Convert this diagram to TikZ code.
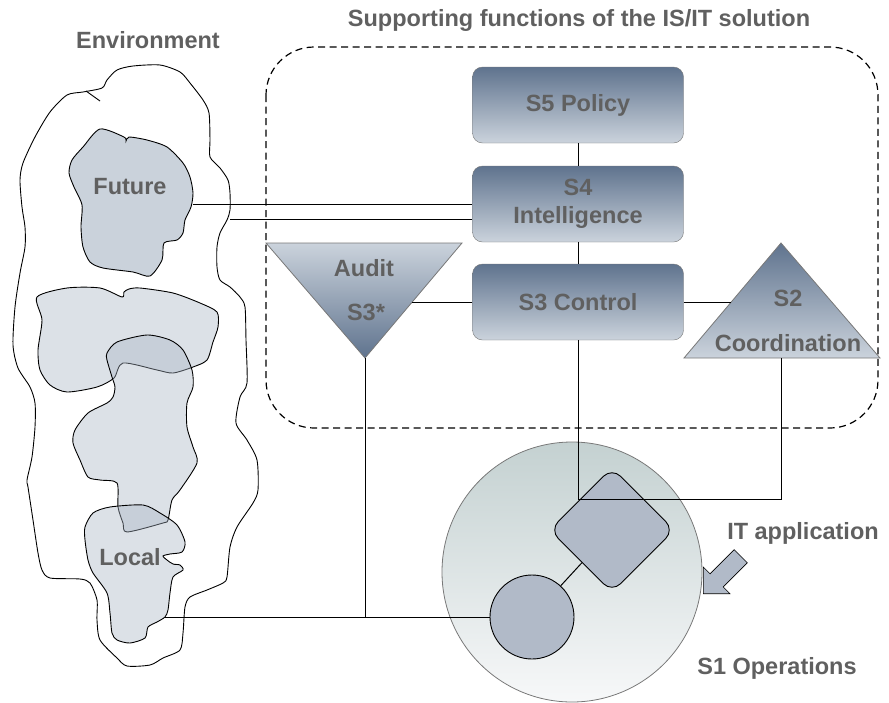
\documentclass[tikz,border=0pt]{standalone}
\usepackage{fontspec}
\setmainfont{Liberation Sans}
\usepackage{tikz}
\usetikzlibrary{shapes.arrows,positioning,calc}

\definecolor{boxtop}{RGB}{95,115,142}
\definecolor{boxbot}{RGB}{203,211,220}
\definecolor{boxline}{RGB}{120,120,120}
\definecolor{textgray}{RGB}{96,96,96}
\definecolor{futfill}{RGB}{202,210,219}
\definecolor{blobfill}{RGB}{168,180,196}
\definecolor{opfill}{RGB}{177,186,200}
\definecolor{circtop}{RGB}{196,209,209}
\definecolor{circbot}{RGB}{247,248,249}

\begin{document}
\begin{tikzpicture}[x=1pt,y=-1pt,
  lbl/.style={font=\bfseries\fontsize{23.5}{28}\selectfont, text=textgray, align=center},
  vsmbox/.style={draw=boxline, rounded corners=10pt, top color=boxtop, bottom color=boxbot,
    minimum width=211pt, minimum height=76pt, inner sep=0pt},
  blob/.style={draw=black, line width=0.9pt, fill=blobfill, fill opacity=0.4, draw opacity=1},
  link/.style={draw=black, line width=1pt}]
\useasboundingbox (0,0) rectangle (889,702);

% Environment
\draw[line width=0.9pt] plot[smooth cycle, tension=0.45] coordinates {
  (83,92) (102,88) (107,80) (117,70) (133,66) (160,65) (180,72) (190,83) (203,100)
  (209,113) (210,140) (210,157) (220,168) (228,180) (230,193) (230,210) (227,220)
  (220,233) (217,247) (217,267) (220,280) (230,287) (240,297) (245,307) (246,340)
  (247,383) (240,397) (236,423) (247,440) (257,460) (258,490) (253,503) (237,527)
  (230,547) (227,577) (223,583) (207,590) (190,597) (185,607) (183,633) (180,650)
  (163,658) (150,665) (127,666) (117,658) (100,640) (97,620) (97,600) (90,583)
  (80,579) (50,578) (42,570) (38,553) (33,520) (28,487) (27,480) (32,457) (35,427)
  (35,403) (30,387) (18,368) (13,345) (15,307) (20,273) (25,247) (25,227) (22,207)
  (20,180) (23,163) (35,137) (50,112) (67,95)};
\draw[line width=0.9pt] (86,91) -- (100,101);

% Future
\filldraw[fill=futfill, draw=black, line width=0.9pt] plot[smooth cycle, tension=0.45] coordinates {
  (100,129) (124,137) (126,141) (129,137) (147,140) (167,147) (183,163) (190,177)
  (193,193) (191,207) (185,220) (183,233) (177,240) (164,243) (162,260) (150,276)
  (133,272) (103,268) (90,262) (83,247) (81,227) (82,205) (74,187) (69,173) (72,160)
  (83,147)};
\fill[blobfill, fill opacity=0.4] plot[smooth cycle, tension=0.45] coordinates {
  (37,297) (67,288) (100,288) (122,297) (124,292) (129,289) (140,288) (173,293)
  (200,303) (217,312) (218,327) (213,342) (207,360) (193,367) (173,373) (157,370)
  (123,363) (114,378) (97,387) (67,392) (50,385) (40,370) (38,350) (42,320)};
\draw[line width=0.9pt] plot[smooth cycle, tension=0.45] coordinates {
  (37,297) (67,288) (100,288) (122,297) (124,292) (129,289) (140,288) (173,293)
  (200,303) (217,312) (218,327) (213,342) (207,360) (193,367) (173,373) (157,370)
  (123,363) (114,378) (97,387) (67,392) (50,385) (40,370) (38,350) (42,320)};
\path[blob] plot[smooth cycle, tension=0.45] coordinates {
  (107,353) (117,342) (147,335) (170,340) (183,350) (192,370) (193,387) (187,403)
  (187,427) (193,447) (197,463) (180,490) (172,500) (168,520) (163,523) (127,532)
  (123,523) (118,507) (117,483) (100,480) (88,477) (80,460) (73,443) (75,430)
  (88,413) (107,403) (113,397) (115,387) (112,377) (107,360)};
\path[blob] plot[smooth cycle, tension=0.45] coordinates {
  (85,527) (93,513) (110,507) (143,505) (160,513) (177,525) (185,542) (182,552)
  (170,554) (163,556) (167,560) (173,564) (180,565) (183,570) (173,577) (170,593)
  (168,610) (165,617) (157,622) (148,627) (145,638) (130,643) (117,640) (112,633)
  (110,613) (107,593) (93,573) (88,560) (85,540)};
\coordinate (futR) at (193,204);
\coordinate (envR) at (230,219);
\coordinate (locR) at (165,617);
\node[lbl] (envlbl) at (148,40) {Environment};
\node[lbl] (futlbl) at (130,187) {Future};
\node[lbl] (loclbl) at (130,557) {Local};

% Supporting functions
\draw[dash pattern=on 7pt off 4.5pt, line width=1.2pt, rounded corners=48pt] (266,47) rectangle (878,428);
\node[lbl] (supplbl) at (579,20) {Supporting functions of the IS/IT solution};
\node[vsmbox, lbl] (s5) at (578,105) {S5 Policy};
\node[vsmbox, lbl] (s4) at (578,204) {S4\\Intelligence};
\node[vsmbox, lbl] (s3) at (578,302) {S3 Control};

\shade[top color=boxbot, bottom color=boxtop, draw=boxline, line width=0.8pt] (266,243) -- (462,243) -- (365,358) -- cycle;
\coordinate (auditA) at (365,358);
\coordinate (auditE) at (412,302);
\node[lbl] (audit) at (364,268) {Audit};
\node[lbl] (s3star) at (366,312) {S3*};

\shade[top color=boxtop, bottom color=boxbot, draw=boxline, line width=0.8pt] (781,243) -- (880,358) -- (684,358) -- cycle;
\coordinate (s2W) at (731,302);
\coordinate (s2B) at (781,358);
\node[lbl] (s2) at (788,298) {S2};
\node[lbl] (coord) at (788,343) {Coordination};

% Operations
\node[circle, draw=boxline, line width=0.8pt, top color=circtop, bottom color=circbot, minimum size=260pt] (s1) at (572,572) {};
\node[circle, draw=black, line width=0.9pt, fill=opfill, minimum size=84pt] (opcirc) at (532,617) {};
\node[rectangle, rounded corners=12pt, rotate=45, draw=black, line width=0.9pt, fill=opfill, minimum size=88pt] (appdiam) at (612,530) {};
\coordinate (opjoin) at (578,499);
\node[single arrow, draw=black, line width=0.6pt, fill=opfill, rotate=225, minimum height=53pt,
  single arrow head extend=9.5pt, single arrow tip angle=90, inner sep=9pt, anchor=tip] (itarrow) at (703,594) {};
\node[lbl] (itlbl) at (803,533) {IT application};
\node[lbl] (s1lbl) at (777,668) {S1 Operations};

% Links
\draw[link] (s5) -- (s4);
\draw[link] (s4) -- (s3);
\draw[link] (s3) -- (auditE);
\draw[link] (s3) -- (s2W);
\draw[link] (s3.south) -- (opjoin) -| (s2B);
\draw[link] (futR) -- (futR -| s4.west);
\draw[link] (envR) -- (envR -| s4.west);
\draw[link] (auditA) -- (auditA |- opcirc.west);
\draw[link] (locR) -- (opcirc);
\draw[link] (opcirc) -- (appdiam);
\end{tikzpicture}
\end{document}
